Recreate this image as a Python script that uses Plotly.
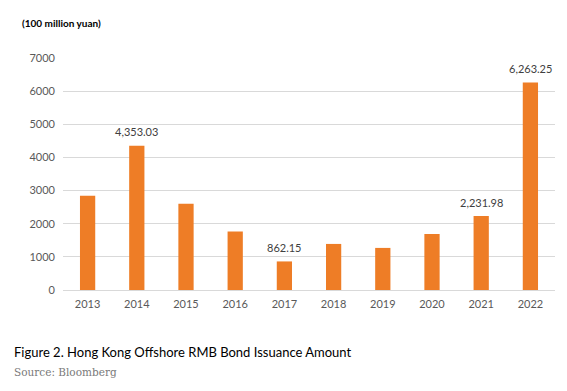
import plotly.graph_objects as go

years = ["2013", "2014", "2015", "2016", "2017", "2018", "2019", "2020", "2021", "2022"]
values = [2840, 4353.03, 2600, 1765, 862.15, 1390, 1270, 1690, 2231.98, 6263.25]
labelled = [False, True, False, False, True, False, False, False, True, True]
y_ticks = [0, 1000, 2000, 3000, 4000, 5000, 6000, 7000]

FONT = "Lato, Open Sans, sans-serif"
TICK_COLOR = "#595959"

fig = go.Figure()
fig.add_trace(go.Bar(x=years, y=values, marker=dict(color="#EE7D26", line=dict(width=0)),
                     hoverinfo="x+y"))

for i, (yr, v, lab) in enumerate(zip(years, values, labelled)):
    if lab:
        fig.add_annotation(x=i, y=v, text=f"{v:,.2f}", showarrow=False,
                           yanchor="middle", yshift=14,
                           font=dict(family=FONT, size=11, color="#404040"))

fig.add_annotation(xref="paper", yref="paper", x=-0.0874, y=1.151, xanchor="left", yanchor="middle",
                   text="<b>(100 million yuan)</b>", showarrow=False,
                   font=dict(family=FONT, size=10, color="#000000"))
fig.add_annotation(xref="paper", yref="paper", x=-0.1036, y=-0.2672, xanchor="left", yanchor="middle",
                   text="Figure 2. Hong Kong Offshore RMB Bond Issuance Amount", showarrow=False,
                   font=dict(family=FONT, size=13, color="#000000"))
fig.add_annotation(xref="paper", yref="paper", x=-0.1037, y=-0.3513, xanchor="left", yanchor="middle",
                   text="Source: Bloomberg", showarrow=False,
                   font=dict(family="DejaVu Serif, serif", size=10.5, color="#7a7a7a"))

fig.update_layout(
    width=559, height=383,
    margin=dict(l=55, r=12, t=50, b=101),
    paper_bgcolor="white", plot_bgcolor="white",
    bargap=0.69,
    showlegend=False,
    xaxis=dict(type="category", range=[-0.5, len(years) - 0.5], showgrid=False, showline=False, ticks="",
               ticklabelstandoff=6,
               tickfont=dict(family=FONT, size=11, color=TICK_COLOR)),
    yaxis=dict(range=[0, 7000], tickvals=y_ticks, ticktext=[str(t) for t in y_ticks],
               showgrid=True, gridcolor="#D9D9D9", gridwidth=1,
               zeroline=True, zerolinecolor="#D9D9D9", zerolinewidth=1,
               ticks="", ticklabelstandoff=7,
               tickfont=dict(family=FONT, size=11, color=TICK_COLOR)),
)

fig.write_html("out.html")
